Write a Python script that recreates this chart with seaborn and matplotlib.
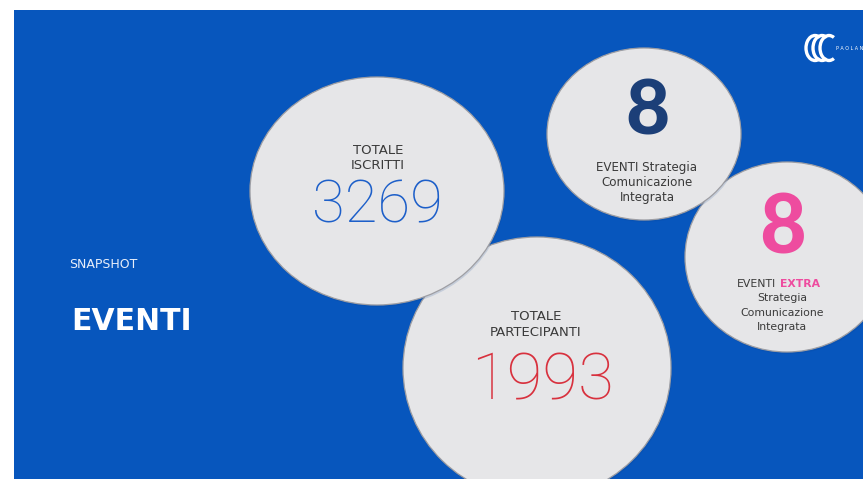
import numpy as np
import pandas as pd
import matplotlib
matplotlib.use("Agg")
import matplotlib.pyplot as plt
import seaborn as sns
from matplotlib.patches import Ellipse, Rectangle, Arc

# dati
labels = ["TOTALE\nISCRITTI", "TOTALE\nPARTECIPANTI",
          "EVENTI Strategia\nComunicazione\nIntegrata",
          "Strategia\nComunicazione\nIntegrata"]
valori = [3269, 1993, 8, 8]
colori_valori = ["#1d5fc9", "#d8313e", "#1c3f78", "#ee4c9f"]

# layout (coordinate in pixel)
cx = [377, 537, 644, 787]
cy = [191, 368, 134, 257]
rx = [127, 134, 97, 102]
ry = [114, 131, 86, 95]
z = [3, 2, 5, 4]

sns.set_theme(style="white")
plt.rcParams['font.family'] = ['DejaVu Sans']

fig = plt.figure(figsize=(8.63, 4.79), dpi=100)
fig.patch.set_facecolor("white")
ax = fig.add_axes([0, 0, 1, 1])
ax.set_xlim(0, 863)
ax.set_ylim(479, 0)
ax.axis("off")

# sfondo blu
ax.add_patch(Rectangle((14, 10), 849, 469, facecolor="#0756bd", edgecolor="none", zorder=0))

df = pd.DataFrame({"label": labels, "valore": valori, "colore": colori_valori,
                   "cx": cx, "cy": cy, "rx": rx, "ry": ry, "z": z})

for _, r in df.iterrows():
    ax.add_patch(Ellipse((r.cx + 1, r.cy + 2), 2 * r.rx, 2 * r.ry, facecolor="#0a3f8a",
                         alpha=0.15, edgecolor="none", zorder=r.z - 0.1))
    ax.add_patch(Ellipse((r.cx, r.cy), 2 * r.rx, 2 * r.ry, facecolor="#e6e6e8",
                         edgecolor="#9e9ea3", lw=0.9, zorder=r.z))

testo = "#3a3a3a"
num_font = ["Roboto", "DejaVu Sans"]
big_font = ["Lato", "DejaVu Sans"]


def righe(x, y0, passo, testo_multi, size):
    # una riga alla volta, per controllare la spaziatura
    for i, riga in enumerate(testo_multi.split("\n")):
        ax.text(x, y0 + i * passo, riga, ha="center", va="center", fontsize=size,
                color=testo, zorder=10)


# cerchio 1
righe(378, 151, 14.5, df.label[0], 9.5)
ax.text(377, 206, f"{df.valore[0]}", ha="center", va="center", fontsize=43, color=df.colore[0],
        family=num_font, fontweight="light", zorder=10)
# cerchio 2
righe(536, 316, 16.5, df.label[1], 9.5)
ax.text(542, 382, f"{df.valore[1]}", ha="center", va="center", fontsize=47, color=df.colore[1],
        family=num_font, fontweight="light", zorder=10)
# cerchio 3
ax.text(647, 112, f"{df.valore[2]}", ha="center", va="center", fontsize=55, color=df.colore[2],
        family=big_font, fontweight="black", zorder=10)
righe(647, 168, 14.5, df.label[2], 8.6)
# cerchio 4
ax.text(776, 284, "EVENTI", ha="right", va="center", fontsize=7.8, color=testo, zorder=10)
ax.text(780, 284, "EXTRA", ha="left", va="center", fontsize=7.8, color=df.colore[3],
        fontweight="bold", zorder=10)
ax.text(782, 230, f"{df.valore[3]}", ha="center", va="center", fontsize=58, color=df.colore[3],
        family=big_font, fontweight="black", zorder=10)
righe(782, 298, 14.5, df.label[3], 7.8)

# titoli
ax.text(69, 265, "SNAPSHOT", ha="left", va="center", fontsize=9, color="#e8eefa", zorder=10)
ax.text(71, 322, "EVENTI", ha="left", va="center", fontsize=21.5, color="white",
        fontweight="bold", zorder=10)

# logo
for dx in [0, 7, 14]:
    ax.add_patch(Arc((815 + dx, 48), 18, 25, theta1=65, theta2=295, color="white", lw=2.4, zorder=10))
ax.text(836, 48, "P A O L A N", ha="left", va="center", fontsize=3.5, color="white", zorder=10)

fig.savefig("out.png", dpi=100, facecolor=fig.get_facecolor())
